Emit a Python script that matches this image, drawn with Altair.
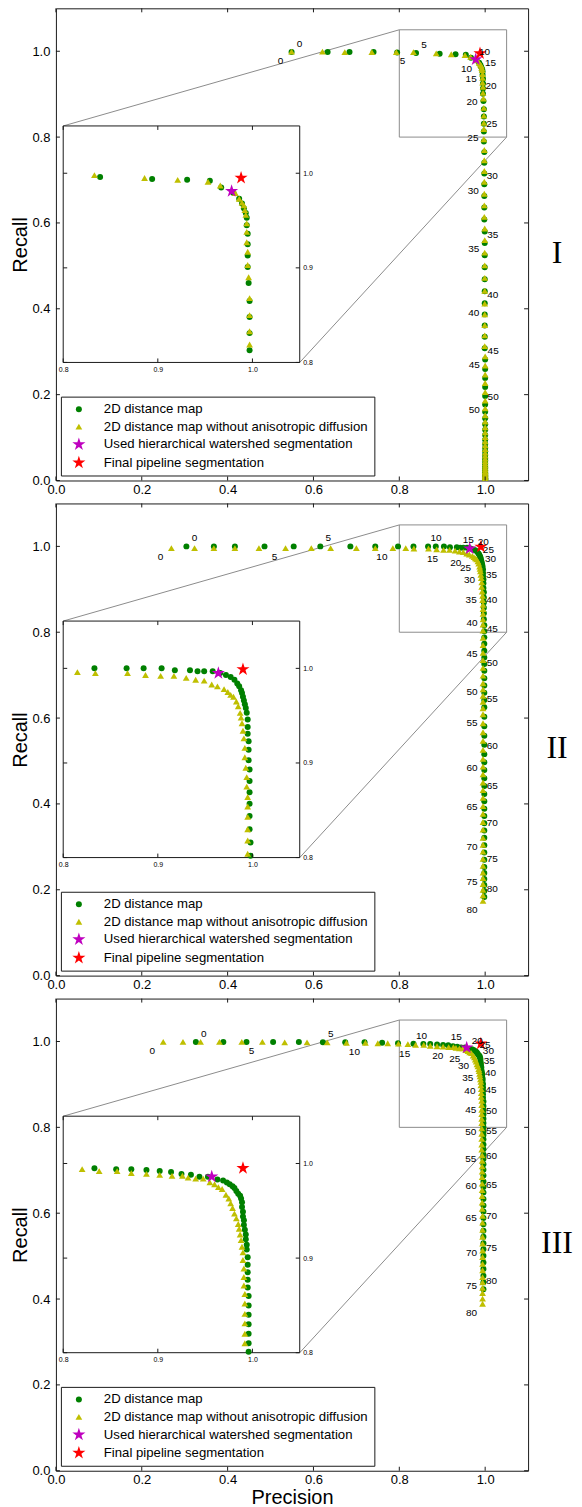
import altair as alt
import pandas as pd

# ------------------------------------------------------------------ data
SERIES = [
    "2D distance map",
    "2D distance map without anisotropic diffusion",
    "Used hierarchical watershed segmentation",
    "Final pipeline segmentation",
]
PANEL_NAMES = ["I", "II", "III"]
LABEL_MAX = [50, 80, 80]      # last parameter value that carries a number
LABEL_STEP = 5

MAIN_DOMAIN = [0.0, 1.1]
MAIN_TICKS = [0.0, 0.2, 0.4, 0.6, 0.8, 1.0]
ZOOM_X = [0.8, 1.05]
ZOOM_Y = [0.8, 1.05]
INSET_TICKS = [0.8, 0.9, 1.0]
INSET_X = [0.017, 0.568]      # where the inset sits, in main data units
INSET_Y = [0.275, 0.826]

# ---- panel I
P1_GREEN_PREC = [
    0.549, 0.633, 0.684, 0.740, 0.795, 0.839, 0.894, 0.931, 0.955, 0.967,
    0.980, 0.986, 0.989, 0.991, 0.993, 0.994, 0.994, 0.995, 0.995, 0.995,
    0.995, 0.996, 0.997, 0.997, 0.997, 0.997, 0.997, 0.998, 0.998, 0.998,
    0.998, 0.998, 0.998, 0.998, 0.999, 0.999, 0.999, 0.999, 0.999, 0.999,
    0.999, 0.999, 0.999, 0.999, 0.999, 1.000, 1.000, 1.000, 1.000, 1.000,
    1.000, 1.000, 1.000, 1.000, 1.000, 1.000, 1.000, 1.000, 1.000, 1.000,
    1.000, 1.000, 1.000, 1.000, 1.000, 1.000, 1.000, 1.000, 1.000, 1.000,
    1.000, 1.000, 1.000, 1.000, 1.000, 1.000, 1.000, 1.000, 1.000, 1.000,
    1.000]
P1_GREEN_REC = [
    0.998, 0.998, 0.998, 0.998, 0.997, 0.996, 0.994, 0.993, 0.992, 0.985,
    0.979, 0.973, 0.968, 0.963, 0.958, 0.953, 0.945, 0.936, 0.925, 0.913,
    0.901, 0.884, 0.865, 0.848, 0.831, 0.813, 0.790, 0.765, 0.740, 0.715,
    0.690, 0.663, 0.636, 0.608, 0.580, 0.553, 0.525, 0.497, 0.469, 0.441,
    0.413, 0.387, 0.361, 0.335, 0.308, 0.282, 0.260, 0.239, 0.218, 0.197,
    0.177, 0.160, 0.145, 0.131, 0.118, 0.106, 0.095, 0.085, 0.076, 0.068,
    0.060, 0.053, 0.047, 0.041, 0.036, 0.031, 0.027, 0.023, 0.020, 0.017,
    0.014, 0.012, 0.010, 0.008, 0.006, 0.005, 0.004, 0.003, 0.002, 0.001,
    0.0005]
P1_YELLOW_PREC = [
    0.549, 0.621, 0.673, 0.736, 0.793, 0.833, 0.886, 0.921, 0.953, 0.966,
    0.982, 0.986, 0.989, 0.991, 0.992, 0.993, 0.994, 0.994, 0.994, 0.995,
    0.995, 0.996, 0.997, 0.997, 0.997, 0.997, 0.997, 0.998, 0.998, 0.998,
    0.998, 0.998, 0.998, 0.998, 0.999, 0.999, 0.999, 0.999, 0.999, 0.999,
    0.999, 0.999, 0.999, 0.999, 0.999, 1.000, 1.000, 1.000, 1.000, 1.000,
    1.000, 1.000, 1.000, 1.000, 1.000, 1.000, 1.000, 1.000, 1.000, 1.000,
    1.000, 1.000, 1.000, 1.000, 1.000, 1.000, 1.000, 1.000, 1.000, 1.000,
    1.000, 1.000, 1.000, 1.000, 1.000, 1.000, 1.000, 1.000, 1.000, 1.000,
    1.000]
P1_YELLOW_REC = [
    0.999, 0.999, 0.998, 0.998, 0.998, 0.998, 0.995, 0.993, 0.991, 0.987,
    0.979, 0.973, 0.969, 0.966, 0.961, 0.956, 0.947, 0.938, 0.927, 0.917,
    0.903, 0.890, 0.868, 0.850, 0.833, 0.819, 0.795, 0.770, 0.746, 0.721,
    0.696, 0.668, 0.641, 0.614, 0.587, 0.560, 0.531, 0.501, 0.472, 0.442,
    0.412, 0.387, 0.362, 0.338, 0.313, 0.289, 0.268, 0.247, 0.227, 0.206,
    0.186, 0.168, 0.152, 0.137, 0.124, 0.112, 0.101, 0.091, 0.082, 0.073,
    0.065, 0.058, 0.051, 0.045, 0.040, 0.035, 0.030, 0.026, 0.022, 0.019,
    0.016, 0.013, 0.011, 0.009, 0.007, 0.005, 0.004, 0.003, 0.002, 0.001,
    0.0005]
P1_STAR_PREC = [0.978, 0.988]
P1_STAR_REC = [0.981, 0.995]

# ---- panel II
P2_GREEN_PREC = [
    0.304, 0.368, 0.417, 0.486, 0.554, 0.616, 0.686, 0.744, 0.797, 0.833,
    0.867, 0.885, 0.904, 0.918, 0.934, 0.942, 0.949, 0.958, 0.966, 0.972,
    0.977, 0.981, 0.984, 0.986, 0.988, 0.989, 0.990, 0.991, 0.992, 0.993,
    0.994, 0.995, 0.995, 0.995, 0.996, 0.996, 0.996, 0.997, 0.997, 0.997,
    0.997, 0.997, 0.997, 0.998, 0.998, 0.998, 0.998, 0.998, 0.998, 0.998,
    0.998, 0.998, 0.998, 0.998, 0.998, 0.998, 0.998, 0.998, 0.998, 0.998,
    0.998, 0.998, 0.998, 0.998, 0.998, 0.998, 0.998, 0.998, 0.998, 0.998,
    0.998, 0.998, 0.998, 0.998, 0.998, 0.998, 0.998, 0.998, 0.998, 0.998,
    0.998]
P2_GREEN_REC = [
    1.000, 1.000, 1.000, 1.000, 1.000, 1.000, 1.000, 1.000, 1.000, 1.000,
    1.000, 1.000, 1.000, 0.998, 0.998, 0.997, 0.997, 0.997, 0.995, 0.993,
    0.991, 0.988, 0.984, 0.981, 0.977, 0.974, 0.970, 0.966, 0.962, 0.958,
    0.953, 0.946, 0.938, 0.931, 0.923, 0.914, 0.903, 0.893, 0.881, 0.869,
    0.857, 0.844, 0.830, 0.816, 0.802, 0.788, 0.773, 0.757, 0.741, 0.726,
    0.710, 0.693, 0.676, 0.659, 0.642, 0.625, 0.603, 0.581, 0.559, 0.538,
    0.516, 0.497, 0.479, 0.460, 0.442, 0.423, 0.406, 0.389, 0.372, 0.355,
    0.338, 0.321, 0.304, 0.287, 0.270, 0.253, 0.239, 0.225, 0.211, 0.197,
    0.183]
P2_YELLOW_PREC = [
    0.269, 0.323, 0.368, 0.417, 0.473, 0.535, 0.595, 0.640, 0.700, 0.744,
    0.785, 0.815, 0.834, 0.868, 0.887, 0.903, 0.917, 0.930, 0.940, 0.949,
    0.957, 0.963, 0.970, 0.974, 0.977, 0.980, 0.983, 0.985, 0.987, 0.988,
    0.989, 0.990, 0.991, 0.992, 0.992, 0.993, 0.994, 0.994, 0.995, 0.995,
    0.995, 0.995, 0.995, 0.995, 0.995, 0.995, 0.995, 0.995, 0.995, 0.995,
    0.995, 0.995, 0.995, 0.995, 0.995, 0.995, 0.995, 0.995, 0.995, 0.995,
    0.995, 0.995, 0.995, 0.995, 0.995, 0.995, 0.995, 0.995, 0.995, 0.995,
    0.995, 0.995, 0.995, 0.995, 0.995, 0.995, 0.995, 0.995, 0.995, 0.995,
    0.995]
P2_YELLOW_REC = [
    0.996, 0.996, 0.996, 0.996, 0.996, 0.996, 0.996, 0.996, 0.996, 0.996,
    0.996, 0.996, 0.995, 0.995, 0.993, 0.992, 0.992, 0.990, 0.988, 0.987,
    0.983, 0.981, 0.978, 0.975, 0.972, 0.970, 0.965, 0.960, 0.953, 0.948,
    0.942, 0.934, 0.926, 0.916, 0.906, 0.895, 0.885, 0.875, 0.864, 0.854,
    0.843, 0.830, 0.818, 0.804, 0.787, 0.770, 0.752, 0.735, 0.717, 0.699,
    0.681, 0.667, 0.652, 0.638, 0.623, 0.609, 0.588, 0.567, 0.547, 0.526,
    0.505, 0.487, 0.469, 0.450, 0.432, 0.414, 0.395, 0.377, 0.358, 0.340,
    0.321, 0.305, 0.289, 0.272, 0.256, 0.240, 0.227, 0.213, 0.200, 0.187,
    0.174]
P2_STAR_PREC = [0.964, 0.990]
P2_STAR_REC = [0.995, 0.999]

# ---- panel III
P3_GREEN_PREC = [
    0.326, 0.390, 0.444, 0.506, 0.566, 0.622, 0.674, 0.719, 0.760, 0.797,
    0.833, 0.856, 0.872, 0.888, 0.902, 0.914, 0.925, 0.935, 0.944, 0.953,
    0.963, 0.969, 0.973, 0.976, 0.979, 0.981, 0.983, 0.985, 0.987, 0.988,
    0.989, 0.989, 0.990, 0.990, 0.991, 0.991, 0.992, 0.993, 0.993, 0.994,
    0.994, 0.995, 0.995, 0.995, 0.995, 0.995, 0.996, 0.996, 0.996, 0.996,
    0.996, 0.996, 0.996, 0.996, 0.996, 0.996, 0.996, 0.996, 0.996, 0.996,
    0.996, 0.996, 0.996, 0.996, 0.996, 0.996, 0.996, 0.996, 0.996, 0.996,
    0.996, 0.996, 0.996, 0.996, 0.996, 0.996, 0.996, 0.996, 0.996, 0.996,
    0.996]
P3_GREEN_REC = [
    0.999, 0.999, 0.999, 0.999, 0.999, 0.998, 0.998, 0.998, 0.997, 0.996,
    0.995, 0.994, 0.994, 0.993, 0.992, 0.991, 0.989, 0.988, 0.986, 0.986,
    0.983, 0.982, 0.980, 0.978, 0.976, 0.974, 0.971, 0.968, 0.966, 0.963,
    0.959, 0.954, 0.949, 0.944, 0.940, 0.935, 0.930, 0.925, 0.920, 0.914,
    0.909, 0.901, 0.893, 0.885, 0.877, 0.869, 0.860, 0.850, 0.840, 0.830,
    0.820, 0.810, 0.801, 0.791, 0.782, 0.772, 0.760, 0.749, 0.737, 0.726,
    0.714, 0.701, 0.688, 0.674, 0.661, 0.648, 0.633, 0.618, 0.604, 0.589,
    0.574, 0.559, 0.545, 0.530, 0.516, 0.501, 0.485, 0.470, 0.454, 0.439,
    0.423]
P3_YELLOW_PREC = [
    0.250, 0.296, 0.337, 0.381, 0.433, 0.481, 0.533, 0.585, 0.632, 0.677,
    0.721, 0.750, 0.773, 0.798, 0.820, 0.838, 0.857, 0.872, 0.888, 0.902,
    0.915, 0.926, 0.932, 0.940, 0.948, 0.955, 0.960, 0.964, 0.968, 0.972,
    0.975, 0.977, 0.979, 0.981, 0.983, 0.985, 0.986, 0.987, 0.988, 0.989,
    0.990, 0.990, 0.991, 0.991, 0.991, 0.992, 0.992, 0.992, 0.992, 0.992,
    0.992, 0.992, 0.992, 0.992, 0.992, 0.992, 0.993, 0.993, 0.993, 0.993,
    0.993, 0.993, 0.993, 0.993, 0.993, 0.993, 0.994, 0.994, 0.994, 0.994,
    0.994, 0.994, 0.994, 0.994, 0.994, 0.994, 0.994, 0.994, 0.994, 0.994,
    0.994]
P3_YELLOW_REC = [
    0.999, 0.999, 0.999, 0.999, 0.999, 0.999, 0.998, 0.998, 0.998, 0.997,
    0.997, 0.996, 0.996, 0.995, 0.994, 0.992, 0.992, 0.990, 0.989, 0.988,
    0.987, 0.987, 0.985, 0.984, 0.984, 0.980, 0.978, 0.975, 0.973, 0.967,
    0.963, 0.958, 0.953, 0.947, 0.942, 0.936, 0.931, 0.925, 0.919, 0.912,
    0.906, 0.898, 0.889, 0.880, 0.871, 0.862, 0.852, 0.841, 0.831, 0.820,
    0.810, 0.798, 0.785, 0.773, 0.760, 0.748, 0.735, 0.722, 0.709, 0.697,
    0.684, 0.669, 0.654, 0.640, 0.625, 0.610, 0.594, 0.578, 0.561, 0.545,
    0.529, 0.513, 0.498, 0.482, 0.467, 0.451, 0.439, 0.426, 0.414, 0.401,
    0.389]
P3_STAR_PREC = [0.957, 0.990]
P3_STAR_REC = [0.986, 0.995]

PANELS = [
    (P1_GREEN_PREC, P1_GREEN_REC, P1_YELLOW_PREC, P1_YELLOW_REC, P1_STAR_PREC, P1_STAR_REC),
    (P2_GREEN_PREC, P2_GREEN_REC, P2_YELLOW_PREC, P2_YELLOW_REC, P2_STAR_PREC, P2_STAR_REC),
    (P3_GREEN_PREC, P3_GREEN_REC, P3_YELLOW_PREC, P3_YELLOW_REC, P3_STAR_PREC, P3_STAR_REC),
]

# ----------------------------------------------------------------- style
W = 473
H = 473
FRAME = "#1a1a1a"
GUIDE = "#8c8c8c"
FONT = "Liberation Sans"
COLORS = ["#008000", "#bfbf00", "#bf00bf", "#ff0000"]
STAR = ("M0,-1L0.2245,-0.309L0.9511,-0.309L0.3633,0.118L0.5878,0.809L0,0.382"
        "L-0.5878,0.809L-0.3633,0.118L-0.9511,-0.309L-0.2245,-0.309Z")
SHAPES = ["circle", "triangle-up", STAR, STAR]
SIZES = [36, 46, 190, 190]
TICK_UP = "M0,0L0,-1"
TICK_DOWN = "M0,0L0,1"
TICK_RIGHT = "M0,0L1,0"
TICK_LEFT = "M0,0L-1,0"
TICK_SIZE = 64

SPAN = MAIN_DOMAIN[1] - MAIN_DOMAIN[0]


def to_px_x(v):
    return (v - MAIN_DOMAIN[0]) / SPAN * W


def to_px_y(v):
    return H - (v - MAIN_DOMAIN[0]) / SPAN * H


INSET_RANGE_X = [to_px_x(INSET_X[0]), to_px_x(INSET_X[1])]
INSET_RANGE_Y = [to_px_y(INSET_Y[0]), to_px_y(INSET_Y[1])]

LEGEND = alt.Legend(
    title=None, orient="bottom-left", offset=5, padding=6,
    strokeColor=FRAME, fillColor="white", labelFont=FONT, labelFontSize=13.2,
    labelColor="black", rowPadding=3.4, symbolOffset=4, labelOffset=17,
    labelLimit=500,
)
COLOR = alt.Color("series:N", scale=alt.Scale(domain=SERIES, range=COLORS), legend=LEGEND)
SHAPE = alt.Shape("series:N", scale=alt.Scale(domain=SERIES, range=SHAPES), legend=LEGEND)
SIZE = alt.Size("series:N", scale=alt.Scale(type="ordinal", domain=SERIES, range=SIZES), legend=LEGEND)


def points_frame(gp, gr, yp, yr, sp, sr):
    rows = []
    for i, (a, b) in enumerate(zip(gp, gr)):
        rows.append(dict(x=a, y=b, series=SERIES[0], idx=i))
    for i, (a, b) in enumerate(zip(yp, yr)):
        rows.append(dict(x=a, y=b, series=SERIES[1], idx=i))
    rows.append(dict(x=sp[0], y=sr[0], series=SERIES[2], idx=-1))
    rows.append(dict(x=sp[1], y=sr[1], series=SERIES[3], idx=-1))
    return pd.DataFrame(rows)


def tick_frames(xs_edge, ys_edge, ticks_x, ticks_y):
    bottom = pd.DataFrame({"x": ticks_x, "y": [ys_edge[0]] * len(ticks_x)})
    top = pd.DataFrame({"x": ticks_x, "y": [ys_edge[1]] * len(ticks_x)})
    left = pd.DataFrame({"x": [xs_edge[0]] * len(ticks_y), "y": ticks_y})
    right = pd.DataFrame({"x": [xs_edge[1]] * len(ticks_y), "y": ticks_y})
    return [(bottom, TICK_UP), (top, TICK_DOWN), (left, TICK_RIGHT), (right, TICK_LEFT)]


def build_panel(k, data, last):
    gp, gr, yp, yr, sp, sr = data
    pts = points_frame(gp, gr, yp, yr, sp, sr)

    xaxis_kw = dict(values=MAIN_TICKS, format=".1f", ticks=False, domain=False, grid=False,
                    labelFlush=False, labelPadding=3, labelFontSize=13, labelFont=FONT,
                    labelColor="black", titleFontSize=20, titleFontWeight="normal",
                    titleFont=FONT, titleColor="black", titlePadding=1)
    ax_x = alt.Axis(title="Precision", **xaxis_kw) if last else alt.Axis(title=None, **xaxis_kw)
    ax_y = alt.Axis(title="Recall", values=MAIN_TICKS, format=".1f", ticks=False, domain=False,
                    grid=False, labelPadding=6, labelFontSize=13, labelFont=FONT,
                    labelColor="black", titleFontSize=20, titleFontWeight="normal",
                    titleFont=FONT, titleColor="black", titlePadding=1)
    sx = alt.Scale(domain=MAIN_DOMAIN, nice=False, zero=False)
    sy = alt.Scale(domain=MAIN_DOMAIN, nice=False, zero=False)
    X = alt.X("x:Q", scale=sx, axis=ax_x)
    Y = alt.Y("y:Q", scale=sy, axis=ax_y)

    zoom_df = pd.DataFrame({"x": [ZOOM_X[0]], "x2": [ZOOM_X[1]], "y": [ZOOM_Y[0]], "y2": [ZOOM_Y[1]]})
    conn_df = pd.DataFrame({
        "x": [INSET_X[0], INSET_X[1]], "y": [INSET_Y[1], INSET_Y[0]],
        "x2": [ZOOM_X[0], ZOOM_X[1]], "y2": [ZOOM_Y[1], ZOOM_Y[0]],
    })
    inset_df = pd.DataFrame({"x": [INSET_X[0]], "x2": [INSET_X[1]], "y": [INSET_Y[0]], "y2": [INSET_Y[1]]})

    layers = []
    layers.append(alt.Chart(zoom_df).mark_rect(fillOpacity=0, stroke=GUIDE, strokeWidth=1)
                  .encode(x=X, x2="x2:Q", y=Y, y2="y2:Q"))
    layers.append(alt.Chart(conn_df).mark_rule(color=GUIDE, strokeWidth=1)
                  .encode(x=X, x2="x2:Q", y=Y, y2="y2:Q"))
    layers.append(alt.Chart(inset_df).mark_rect(fill="white", stroke=FRAME, strokeWidth=1)
                  .encode(x=X, x2="x2:Q", y=Y, y2="y2:Q"))
    layers.append(alt.Chart(pts).mark_point(filled=True, opacity=1, strokeWidth=0, clip=True)
                  .encode(x=X, y=Y, color=COLOR, shape=SHAPE, size=SIZE))

    lab = pts[(pts["idx"] >= 0) & (pts["idx"] % LABEL_STEP == 0) & (pts["idx"] <= LABEL_MAX[k])].copy()
    lab["lab"] = lab["idx"].astype(str)
    g_lab = lab[lab["series"] == SERIES[0]]
    y_lab = lab[lab["series"] == SERIES[1]]
    layers.append(alt.Chart(g_lab).mark_text(fontSize=10, font=FONT, color="black", dx=8, dy=-8)
                  .encode(x=X, y=Y, text="lab:N"))
    layers.append(alt.Chart(y_lab).mark_text(fontSize=10, font=FONT, color="black", dx=-11, dy=9)
                  .encode(x=X, y=Y, text="lab:N"))

    for df, shp in tick_frames(MAIN_DOMAIN, MAIN_DOMAIN, MAIN_TICKS, MAIN_TICKS):
        layers.append(alt.Chart(df).mark_point(shape=shp, size=TICK_SIZE, color=FRAME,
                                               strokeWidth=1, opacity=1)
                      .encode(x=X, y=Y))

    name_df = pd.DataFrame({"t": [PANEL_NAMES[k]]})
    layers.append(alt.Chart(name_df).mark_text(font="Liberation Serif", fontSize=32, color="black",
                                               align="center", baseline="middle")
                  .encode(text="t:N", x=alt.value(W + 29), y=alt.value(245)))

    main = alt.layer(*layers)

    # ---- inset
    iax_x = alt.Axis(values=INSET_TICKS, format=".1f", ticks=False, domain=False, grid=False,
                     labelFlush=False, labelPadding=3, labelFontSize=7, labelFont=FONT,
                     labelColor="black", title=None, orient="bottom",
                     offset=-(H - INSET_RANGE_Y[0]))
    iax_y = alt.Axis(values=INSET_TICKS, format=".1f", ticks=False, domain=False, grid=False,
                     labelPadding=3, labelFontSize=7, labelFont=FONT, labelColor="black",
                     title=None, orient="right", offset=-(W - INSET_RANGE_X[1]))
    IX = alt.X("x:Q", scale=alt.Scale(domain=ZOOM_X, range=INSET_RANGE_X, nice=False, zero=False),
               axis=iax_x)
    IY = alt.Y("y:Q", scale=alt.Scale(domain=ZOOM_Y, range=INSET_RANGE_Y, nice=False, zero=False),
               axis=iax_y)
    ilayers = []
    ilayers.append(alt.Chart(pts).mark_point(filled=True, opacity=1, strokeWidth=0)
                   .encode(x=IX, y=IY, color=COLOR, shape=SHAPE, size=SIZE)
                   .transform_filter((alt.datum.x >= ZOOM_X[0]) & (alt.datum.x <= ZOOM_X[1])
                                     & (alt.datum.y >= ZOOM_Y[0]) & (alt.datum.y <= ZOOM_Y[1])))
    for df, shp in tick_frames(ZOOM_X, ZOOM_Y, INSET_TICKS, INSET_TICKS):
        ilayers.append(alt.Chart(df).mark_point(shape=shp, size=TICK_SIZE, color=FRAME,
                                                strokeWidth=1, opacity=1)
                       .encode(x=IX, y=IY))
    inset = alt.layer(*ilayers)

    return (alt.layer(main, inset)
            .resolve_scale(x="independent", y="independent")
            .properties(width=W, height=H))


panels = [build_panel(k, PANELS[k], k == 2) for k in range(3)]

chart = (
    alt.vconcat(*panels, spacing=3)
    .resolve_scale(color="independent", shape="independent", size="independent")
    .properties(padding={"left": 2, "top": -4, "right": 0, "bottom": 0}, background="white")
    .configure(font=FONT)
    .configure_view(stroke=FRAME, strokeWidth=1)
)

chart.save("out.html", embed_options={"renderer": "svg", "actions": False})
